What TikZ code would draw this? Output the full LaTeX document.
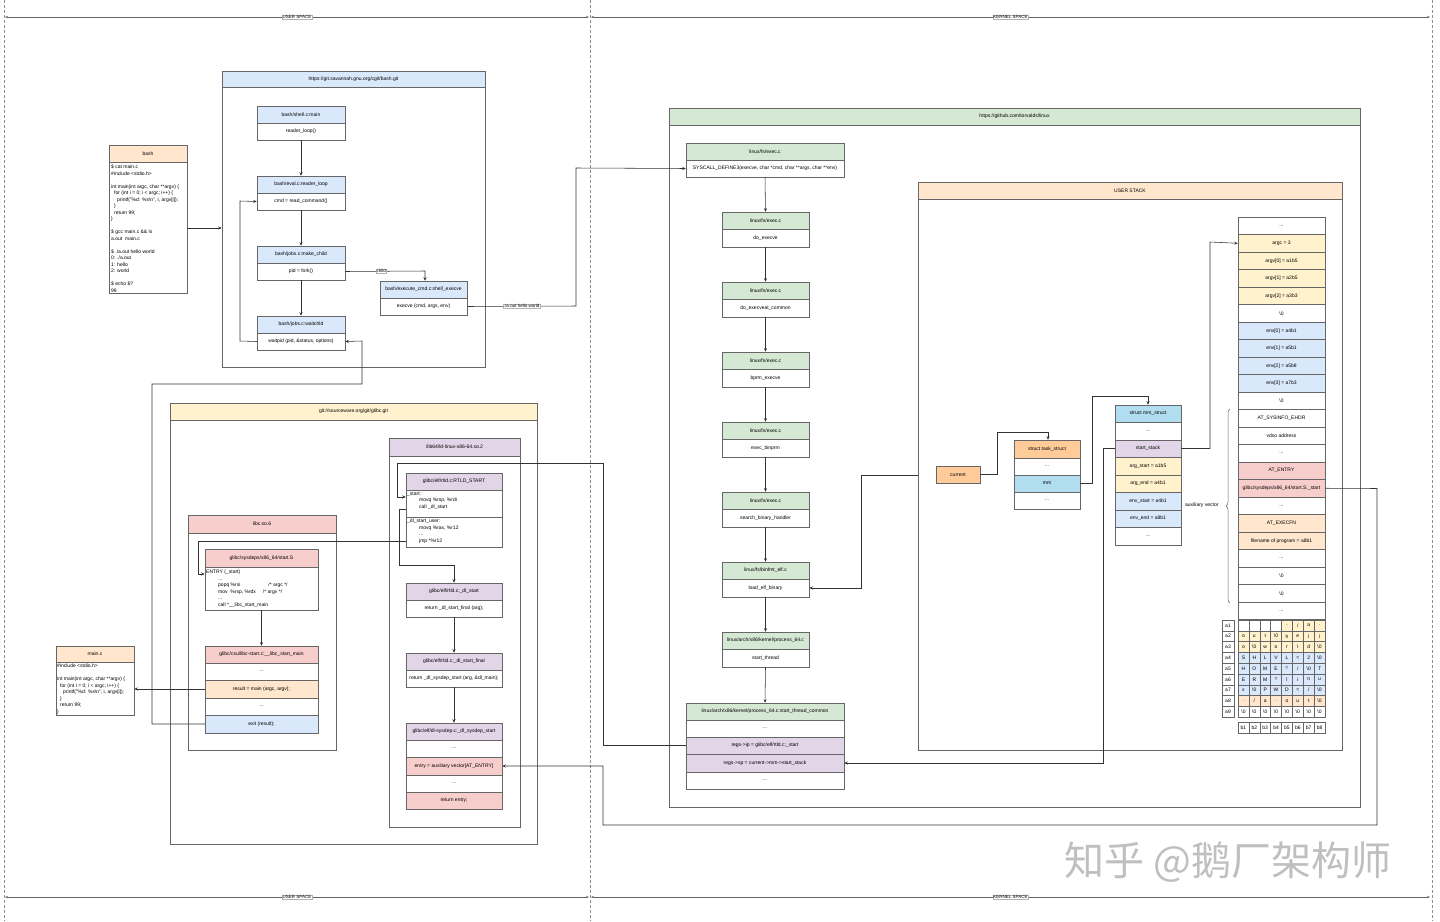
\documentclass[tikz,border=0pt]{standalone}
\usepackage{fontspec}
\setmainfont{Liberation Sans}
\newfontfamily\cjk{Noto Sans CJK SC}
\usetikzlibrary{arrows.meta,decorations.pathreplacing}
\definecolor{lc}{HTML}{666666}
\definecolor{cb}{HTML}{DAE8FC}
\definecolor{cg}{HTML}{D5E8D4}
\definecolor{co}{HTML}{FFE6CC}
\definecolor{cy}{HTML}{FFF2CC}
\definecolor{cr}{HTML}{F8CECC}
\definecolor{cp}{HTML}{E1D5E7}
\definecolor{cc}{HTML}{FFCC99}
\definecolor{cm}{HTML}{B1DDF0}
\newcommand\ft{\fontsize{5}{6.8}\selectfont}
\newcommand\fc{\fontsize{5}{6.5}\selectfont}
\newcommand\Z{\textbackslash 0}
\newcommand\C[7]{\node[cell,fill=#6,minimum width={(#3)-(#2)},minimum height={(#5)-(#4)}] (#1) at ({((#2)+(#3))/2},{((#4)+(#5))/2}) {#7};}
\newcommand\Srow[3]{\C{s#1}{1238}{1325}{217+#1*17.5}{217+#1*17.5+17.5}{#2}{#3}}
\newcommand\Grow[3]{\foreach \ch [count=\j from 0] in {#3}{\C{g#1\j}{1238+\j*10.875}{1238+\j*10.875+10.875}{620+#1*10.8}{620+#1*10.8+10.8}{#2}{\ch}}}
\begin{document}
\begin{tikzpicture}[x=1pt,y=-1pt,
 cell/.style={draw=lc,line width=0.5pt,inner sep=0pt,font=\ft,align=center},
 code/.style={font=\fc,align=left,anchor=north west,inner sep=1pt},
 ar/.style={-{Stealth[length=3.5pt,width=3pt]},line width=0.55pt,draw=black!80},
 sep/.style={densely dashed,draw=black!45,line width=0.4pt},
 span/.style={{Stealth[length=3pt]}-{Stealth[length=3pt]},line width=0.6pt,draw=black!60},
 lab/.style={font=\fontsize{4.5}{5}\selectfont,fill=white,inner sep=0.6pt,draw=black!30,line width=0.2pt}]
\useasboundingbox (0,0) rectangle (1440,921);
\fill[white] (0,0) rectangle (1440,921);
% separators
\foreach \xx/\nm in {4/va,590/vb,1432/vc}{\coordinate (\nm t) at (\xx,0); \coordinate (\nm b) at (\xx,921); \draw[sep] (\nm t) -- (\nm b);}
\coordinate (u1) at (5,17); \coordinate (u2) at (589,17); \coordinate (k1) at (591,17); \coordinate (k2) at (1430,17);
\coordinate (u3) at (5,897); \coordinate (u4) at (589,897); \coordinate (k3) at (591,897); \coordinate (k4) at (1430,897);
\draw[span] (u1) -- node[lab]{USER SPACE} (u2);
\draw[span] (k1) -- node[lab]{KERNEL SPACE} (k2);
\draw[span] (u3) -- node[lab]{USER SPACE} (u4);
\draw[span] (k3) -- node[lab]{KERNEL SPACE} (k4);
% bash
\C{bashh}{109}{187}{145}{162}{co}{bash}
\C{bashb}{109}{187}{162}{293}{white}{}
\node[code] (bashc) at (110,164) {\$ cat main.c\\\#include <stdio.h>\\\mbox{}\\int main(int argc, char **argv) \{\\\hspace*{3pt}for (int i = 0; i < argc; i++) \{\\\hspace*{6pt}printf("\%d: \%s\textbackslash n", i, argv[i]);\\\hspace*{3pt}\}\\\hspace*{3pt}return 99;\\\}\\\mbox{}\\\$ gcc main.c \&\& ls\\a.out\ \ main.c\\\mbox{}\\\$ ./a.out hello world\\0: ./a.out\\1: hello\\2: world\\\mbox{}\\\$ echo \$?\\99};
% bash container
\C{bgh}{222}{485}{71}{87}{cb}{https://git.savannah.gnu.org/cgit/bash.git}
\C{bgb}{222}{485}{87}{367}{white}{}
\C{m1h}{257}{345}{106}{123}{cb}{bash/shell.c:main}
\C{m1b}{257}{345}{123}{140}{white}{reader\_loop()}
\C{m2h}{257}{345}{176}{193}{cb}{bash/eval.c:reader\_loop}
\C{m2b}{257}{345}{193}{210}{white}{cmd = read\_command()}
\C{m3h}{257}{345}{246}{263}{cb}{bash/jobs.c:make\_child}
\C{m3b}{257}{345}{263}{280}{white}{pid = fork()}
\C{m4h}{257}{345}{316}{333}{cb}{bash/jobs.c:waitchld}
\C{m4b}{257}{345}{333}{350}{white}{waitpid (pid, \&status, options)}
\C{m5h}{380}{467}{281}{298}{cb}{bash/execute\_cmd.c:shell\_execve}
\C{m5b}{380}{467}{298}{315}{white}{execve (cmd, args, env)}
\draw[ar] (bashb.east |- 0,228) -- (bgb.west |- 0,228);
\draw[ar] (m1b.south) -- (m2h.north);
\draw[ar] (m2b.south) -- (m3h.north);
\draw[ar] (m3b.south) -- (m4h.north);
\draw[ar] (m4b.west) -- (240,341) -- (240,201) -- (m2b.west);
\draw[ar] (m3b.east) -- node[lab,pos=0.45]{child} (425,271) -- (m5h.north -| 425,0);
% glibc
\C{glh}{170}{537}{403}{420}{cy}{git://sourceware.org/git/glibc.git}
\C{glb}{170}{537}{420}{844}{white}{}
\C{lch}{188}{336}{515}{533}{cr}{libc.so.6}
\C{lcb}{188}{336}{533}{750}{white}{}
\C{sth}{205}{318}{549}{567}{cr}{glibc/sysdeps/x86\_64/start.S}
\C{stb}{205}{318}{567}{610}{white}{}
\node[code] at (205,569) {ENTRY (\_start)\\\hspace*{12pt}...\\\hspace*{12pt}popq \%rsi\hspace*{28pt}/* argc */\\\hspace*{12pt}mov\ \ \%rsp, \%rdx\hspace*{7pt}/* argv */\\\hspace*{12pt}...\\\hspace*{12pt}call *\_\_libc\_start\_main};
\C{lsh}{205}{318}{646}{663}{cr}{glibc/csu/libc-start.c:\_\_libc\_start\_main}
\C{ls1}{205}{318}{663}{680}{white}{...}
\C{ls2}{205}{318}{680}{698}{co}{result = main (argc, argv);}
\C{ls3}{205}{318}{698}{715}{white}{...}
\C{ls4}{205}{318}{715}{733}{cb}{exit (result);}
\C{ldh}{389}{520}{438}{456}{cp}{/lib64/ld-linux-x86-64.so.2}
\C{ldb}{389}{520}{456}{827}{white}{}
\C{rth}{406}{502}{473}{490}{cp}{glibc/elf/rtld.c:RTLD\_START}
\C{rt1}{406}{502}{490}{517}{white}{}
\C{rt2}{406}{502}{517}{547}{white}{}
\node[code] at (406,491) {\_start:\\\hspace*{12pt}movq \%rsp, \%rdi\\\hspace*{12pt}call \_dl\_start};
\node[code] at (406,518) {\_dl\_start\_user:\\\hspace*{12pt}movq \%rax, \%r12\\\hspace*{12pt}...\\\hspace*{12pt}jmp *\%r12};
\C{d1h}{406}{502}{583}{600}{cp}{glibc/elf/rtld.c:\_dl\_start}
\C{d1b}{406}{502}{600}{617}{white}{return \_dl\_start\_final (arg);}
\C{d2h}{406}{502}{653}{670}{cp}{glibc/elf/rtld.c:\_dl\_start\_final}
\C{d2b}{406}{502}{670}{687}{white}{return \_dl\_sysdep\_start (arg, \&dl\_main);}
\C{d3h}{406}{502}{723}{740}{cp}{glibc/elf/dl-sysdep.c:\_dl\_sysdep\_start}
\C{d31}{406}{502}{740}{757}{white}{...}
\C{d32}{406}{502}{757}{775}{cr}{entry = auxiliary vector[AT\_ENTRY]}
\C{d33}{406}{502}{775}{792}{white}{...}
\C{d34}{406}{502}{792}{809}{cr}{return entry;}
\C{mch}{56}{134}{646}{662}{co}{main.c}
\C{mcb}{56}{134}{662}{715}{white}{}
\node[code] at (56,663) {\#include <stdio.h>\\\mbox{}\\int main(int argc, char **argv) \{\\\hspace*{3pt}for (int i = 0; i < argc; i++) \{\\\hspace*{6pt}printf("\%d: \%s\textbackslash n", i, argv[i]);\\\hspace*{3pt}\}\\\hspace*{3pt}return 99;\\\}};
\draw[ar] (stb.south) -- (lsh.north);
\draw[ar] (d1b.south) -- (d2h.north);
\draw[ar] (d2b.south) -- (d3h.north);
\draw[ar] (ls2.west) -- (mcb.east |- ls2.west);
\draw[ar] (ls4.west) -- (152,724) -- (152,384) -- (362,384) -- (362,341) -- (m4b.east);
\draw[ar] (rt2.west |- 0,541) -- (198,541) -- (198,574) -- (stb.west |- 0,574);
\draw[ar] (rt1.west |- 0,509) -- (399,509) -- (399,565) -- (454,565) -- (d1h.north -| 454,0);
% linux
\C{lxh}{669}{1360}{108}{125}{cg}{https://github.com/torvalds/linux}
\C{lxb}{669}{1360}{125}{807}{white}{}
\C{k0h}{686}{844}{143}{160}{cg}{linux/fs/exec.c}
\C{k0b}{686}{844}{160}{177}{white}{SYSCALL\_DEFINE3(execve, char *cmd, char **args, char **env)}
\C{k1h}{722}{809}{212}{229}{cg}{linux/fs/exec.c}
\C{k1b}{722}{809}{229}{247}{white}{do\_execve}
\C{k2h}{722}{809}{282}{299}{cg}{linux/fs/exec.c}
\C{k2b}{722}{809}{299}{317}{white}{do\_execveat\_common}
\C{k3h}{722}{809}{352}{369}{cg}{linux/fs/exec.c}
\C{k3b}{722}{809}{369}{387}{white}{bprm\_execve}
\C{k4h}{722}{809}{422}{439}{cg}{linux/fs/exec.c}
\C{k4b}{722}{809}{439}{457}{white}{exec\_binprm}
\C{k5h}{722}{809}{492}{509}{cg}{linux/fs/exec.c}
\C{k5b}{722}{809}{509}{527}{white}{search\_binary\_handler}
\C{k6h}{722}{809}{562}{579}{cg}{linux/fs/binfmt\_elf.c}
\C{k6b}{722}{809}{579}{597}{white}{load\_elf\_binary}
\C{k7h}{722}{809}{632}{649}{cg}{linux/arch/x86/kernel/process\_64.c}
\C{k7b}{722}{809}{649}{667}{white}{start\_thread}
\C{k8h}{686}{844}{703}{720}{cg}{linux/arch/x86/kernel/process\_64.c:start\_thread\_common}
\C{k81}{686}{844}{720}{737}{white}{...}
\C{k82}{686}{844}{737}{754}{cp}{regs->ip = glibc/elf/rtld.c:\_start}
\C{k83}{686}{844}{754}{772}{cp}{regs->sp = current->mm->start\_stack}
\C{k84}{686}{844}{772}{789}{white}{...}
\draw[ar] (k0b.south) -- (k1h.north);
\draw[ar] (k1b.south) -- (k2h.north);
\draw[ar] (k2b.south) -- (k3h.north);
\draw[ar] (k3b.south) -- (k4h.north);
\draw[ar] (k4b.south) -- (k5h.north);
\draw[ar] (k5b.south) -- (k6h.north);
\draw[ar] (k6b.south) -- (k7h.north);
\draw[ar] (k7b.south) -- (k8h.north);
\draw[ar] (m5b.east) -- node[lab]{./a.out hello world} (576,306) -- (576,168) -- (k0b.west);
% user stack
\C{ush}{918}{1342}{182}{199}{co}{USER STACK}
\C{usb}{918}{1342}{199}{750}{white}{}
\C{cur}{936}{980}{466}{483}{cc}{current}
\C{t0}{1014}{1080}{440}{458}{cc}{struct task\_struct}
\C{t1}{1014}{1080}{458}{475}{white}{...}
\C{t2}{1014}{1080}{475}{492}{cm}{mm}
\C{t3}{1014}{1080}{492}{509}{white}{...}
\C{q0}{1115}{1181}{405}{422}{cm}{struct mm\_struct}
\C{q1}{1115}{1181}{422}{440}{white}{...}
\C{q2}{1115}{1181}{440}{457}{cp}{start\_stack}
\C{q3}{1115}{1181}{457}{475}{cy}{arg\_start = a1b5}
\C{q4}{1115}{1181}{475}{492}{cy}{arg\_end = a4b1}
\C{q5}{1115}{1181}{492}{510}{cb}{env\_start = a4b1}
\C{q6}{1115}{1181}{510}{527}{cb}{env\_end = a8b1}
\C{q7}{1115}{1181}{527}{545}{white}{...}
\Srow{0}{white}{...}
\Srow{1}{cy}{argc = 3}
\Srow{2}{cy}{argv[0] = a1b5}
\Srow{3}{cy}{argv[1] = a2b5}
\Srow{4}{cy}{argv[2] = a3b3}
\Srow{5}{white}{\Z}
\Srow{6}{cb}{env[0] = a4b1}
\Srow{7}{cb}{env[1] = a5b1}
\Srow{8}{cb}{env[2] = a5b8}
\Srow{9}{cb}{env[3] = a7b3}
\Srow{10}{white}{\Z}
\Srow{11}{white}{AT\_SYSINFO\_EHDR}
\Srow{12}{white}{vdso address}
\Srow{13}{white}{...}
\Srow{14}{cr}{AT\_ENTRY}
\Srow{15}{cr}{glibc/sysdeps/x86\_64/start.S:\_start}
\Srow{16}{white}{...}
\Srow{17}{co}{AT\_EXECFN}
\Srow{18}{co}{filename of program = a8b1}
\Srow{19}{white}{...}
\Srow{20}{white}{\Z}
\Srow{21}{white}{\Z}
\Srow{22}{white}{...}
\Grow{0}{white}{{},{},{},{}}
\foreach \ch [count=\j from 4] in {.,/,a,.}{\C{g0\j}{1238+\j*10.875}{1238+\j*10.875+10.875}{620}{630.8}{cy}{\ch}}
\Grow{1}{cy}{o,u,t,\Z,h,e,l,l}
\Grow{2}{cy}{o,\Z,w,o,r,l,d,\Z}
\Grow{3}{cb}{S,H,L,V,L,=,2,\Z}
\Grow{4}{cb}{H,O,M,E,=,/,\Z,T}
\Grow{5}{cb}{E,R,M,=,l,i,n,u}
\Grow{6}{cb}{x,\Z,P,W,D,=,/,\Z}
\Grow{7}{co}{.,/,a,.,o,u,t,\Z}
\Grow{8}{white}{\Z,\Z,\Z,\Z,\Z,\Z,\Z,\Z}
\foreach \r [count=\i from 0] in {a1,a2,a3,a4,a5,a6,a7,a8,a9}{\C{ra\i}{1222}{1234}{620+\i*10.8}{630.8+\i*10.8}{white}{\r}}
\foreach \c [count=\j from 0] in {b1,b2,b3,b4,b5,b6,b7,b8}{\C{cb\j}{1238+\j*10.875}{1248.875+\j*10.875}{722}{733}{white}{\c}}
\coordinate (br1) at (1230,603); \coordinate (br2) at (1230,409);
\draw[line width=0.5pt,draw=black!60,decorate,decoration={brace,amplitude=4pt}] (br1) -- (br2);
\node[font=\ft,anchor=east] (aux) at (1222,505) {auxiliary vector};
% stack connectors
\draw[ar] (cur.east) -- (997,474.5) -- (997,432) -- (1048,432) -- (t0.north -| 1048,0);
\draw[ar] (t2.east) -- (1092,483.5) -- (1092,396) -- (1148,396) -- (q0.north -| 1148,0);
\draw[ar] (q2.east) -- (1210,448.5) -- (1210,242) -- (s1.west);
\draw[ar] (q2.west) -- (1103,448.5) -- (1103,763) -- (k83.east);
\draw[ar] (usb.west |- 0,475) -- (861,475) -- (861,588) -- (k6b.east);
\draw[ar] (k82.west) -- (603,745.5) -- (603,463) -- (397,463) -- (397,497) -- (rt1.west |- 0,497);
\draw[ar] (s15.east) -- (1377,488.5) -- (1377,825) -- (603,825) -- (603,766) -- (d32.east);
% watermark
\node[font=\cjk\fontsize{40}{40}\selectfont,text=black!25,anchor=center] (wm) at (1228,862) {知乎 @鹅厂架构师};
\end{tikzpicture}
\end{document}
